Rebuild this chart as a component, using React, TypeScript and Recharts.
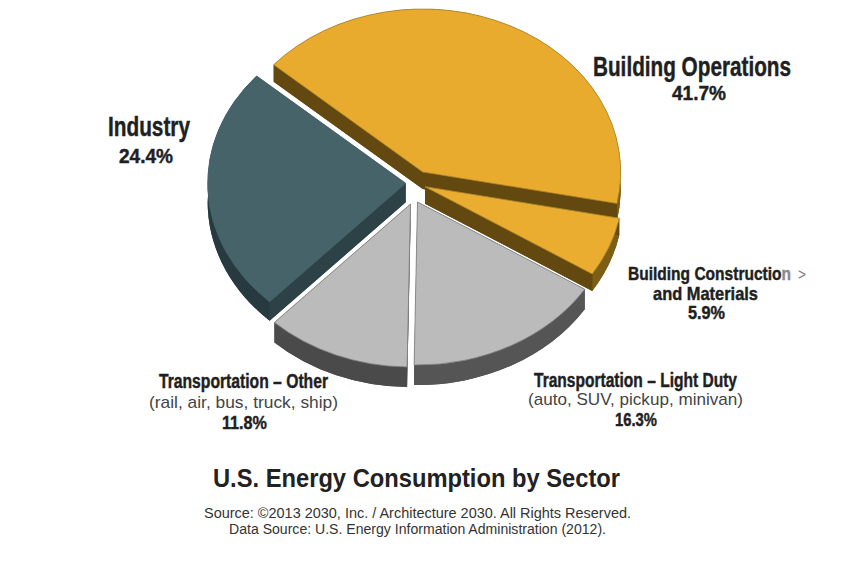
import { PieChart, Pie } from "recharts";

// clockwise from the bottom-right edge of Transportation - Light Duty, so the slices paint back to front
const sectors = [
  "Transportation - Light Duty",
  "Transportation - Other",
  "Industry",
  "Building Operations",
  "Building Construction and Materials",
];
const shares = [16.3, 11.8, 24.4, 41.7, 5.9];

const pieData = sectors.map((name, i) => ({ name, value: shares[i] }));

const W = 847;
const H = 571;
const SQUASH = 163 / 198;

const sliceStyle: Record<string, any> = {
  "Building Operations": { dx: 7.7, dy: -18, depth: 17, top: "#e8ab2e", edge: "#a9842c", wall: "#63490f", rim: "#7d5e14" },
  "Building Construction and Materials": { dx: 10, dy: -3.3, depth: 17, top: "#eaad30", edge: "#b08a2c", wall: "#63490f", rim: "#7d5e14" },
  "Transportation - Light Duty": { dx: 2.5, dy: 12, depth: 20, top: "#bbbbbb", edge: "#808080", wall: "#565656", rim: "#555555" },
  "Transportation - Other": { dx: -4.5, dy: 14, depth: 20, top: "#bbbbbb", edge: "#808080", wall: "#4c4c4c", rim: "#4a4a4a" },
  Industry: { dx: -9.3, dy: -6.7, depth: 19, top: "#456369", edge: "#456369", wall: "#2c4247", rim: "#263a3f" },
};

function ExplodedSlice(props: any) {
  const { cx, cy, outerRadius: rx, startAngle, endAngle, name } = props;
  const s = sliceStyle[name];
  const ry = rx * SQUASH;
  const x0 = cx + s.dx;
  const y0 = cy + s.dy;
  const at = (deg: number) => {
    const a = (deg * Math.PI) / 180;
    return [x0 + rx * Math.cos(a), y0 - ry * Math.sin(a)];
  };
  const [ax, ay] = at(startAngle);
  const [bx, by] = at(endAngle);
  const d = s.depth;
  const sector = (o: number) =>
    `M${x0},${y0 + o}L${ax},${ay + o}A${rx},${ry} 0 0 1 ${bx},${by + o}Z`;
  const band = `M${ax},${ay}A${rx},${ry} 0 0 1 ${bx},${by}L${bx},${by + d}A${rx},${ry} 0 0 0 ${ax},${ay + d}Z`;
  return (
    <g>
      <path d={sector(d)} fill={s.wall} />
      <path d={band} fill={s.rim} />
      <path d={`M${x0},${y0}L${ax},${ay}L${ax},${ay + d}L${x0},${y0 + d}Z`} fill={s.wall} />
      <path d={`M${x0},${y0}L${bx},${by}L${bx},${by + d}L${x0},${y0 + d}Z`} fill={s.wall} />
      <path d={sector(0)} fill={s.top} stroke={s.edge} strokeWidth={0.8} />
    </g>
  );
}

const NARROW = "'Liberation Sans Narrow', 'Liberation Sans', sans-serif";
const SANS = "'Liberation Sans', Arial, sans-serif";

function Head({ x, y, w, size = 27, children }: any) {
  return (
    <text
      x={x}
      y={y}
      textLength={w}
      lengthAdjust="spacingAndGlyphs"
      fontFamily={NARROW}
      fontWeight={700}
      fontSize={size}
      fill="#1f1f1f"
      stroke="#1f1f1f"
      strokeWidth={0.45}
    >
      {children}
    </text>
  );
}

function Plain({ x, y, w, size = 17, fill = "#444444", children }: any) {
  return (
    <text x={x} y={y} textLength={w} lengthAdjust="spacingAndGlyphs" fontFamily={SANS} fontSize={size} fill={fill}>
      {children}
    </text>
  );
}

export default function App() {
  return (
    <div style={{ position: "absolute", left: 0, top: 0, width: W, height: H, background: "#fff" }}>
      <PieChart width={W} height={H} margin={{ top: 0, right: 0, bottom: 0, left: 0 }}>
        <Pie
          data={pieData}
          dataKey="value"
          nameKey="name"
          cx={415}
          cy={190}
          outerRadius={198}
          startAngle={-32.36}
          endAngle={-392.36}
          stroke="none"
          isAnimationActive={false}
          shape={ExplodedSlice}
        />
      </PieChart>
      <svg width={W} height={H} style={{ position: "absolute", left: 0, top: 0, pointerEvents: "none" }}>
        <Head x={593} y={76} w={198}>Building Operations</Head>
        <Head x={672} y={100} w={54} size={20}>41.7%</Head>

        <Head x={108} y={136} w={82}>Industry</Head>
        <Head x={119} y={163} w={54} size={20}>24.4%</Head>

        <Head x={628} y={280} w={163} size={19}>
          Building Constructio<tspan fill="#8a8a8a" stroke="#8a8a8a">n</tspan>
        </Head>
        <Plain x={798} y={280} w={8} size={17} fill="#777777">&gt;</Plain>
        <Head x={653} y={299.5} w={105} size={19}>and Materials</Head>
        <Head x={688} y={319} w={37} size={18}>5.9%</Head>

        <Head x={534} y={387} w={203} size={20}>Transportation – Light Duty</Head>
        <Plain x={528} y={405} w={215}>(auto, SUV, pickup, minivan)</Plain>
        <Head x={615} y={426} w={42} size={19}>16.3%</Head>

        <Head x={159} y={388} w={169} size={20}>Transportation – Other</Head>
        <Plain x={149} y={408} w={189}>(rail, air, bus, truck, ship)</Plain>
        <Head x={222} y={429} w={45} size={19}>11.8%</Head>

        <text x={213} y={487} textLength={407} lengthAdjust="spacingAndGlyphs" fontFamily={SANS} fontWeight={700} fontSize={26} fill="#222222">
          U.S. Energy Consumption by Sector
        </text>
        <Plain x={204} y={518} w={427} size={14} fill="#333333">
          Source: ©2013 2030, Inc. / Architecture 2030. All Rights Reserved.
        </Plain>
        <Plain x={229} y={534} w={377} size={14} fill="#333333">
          Data Source: U.S. Energy Information Administration (2012).
        </Plain>
      </svg>
    </div>
  );
}
